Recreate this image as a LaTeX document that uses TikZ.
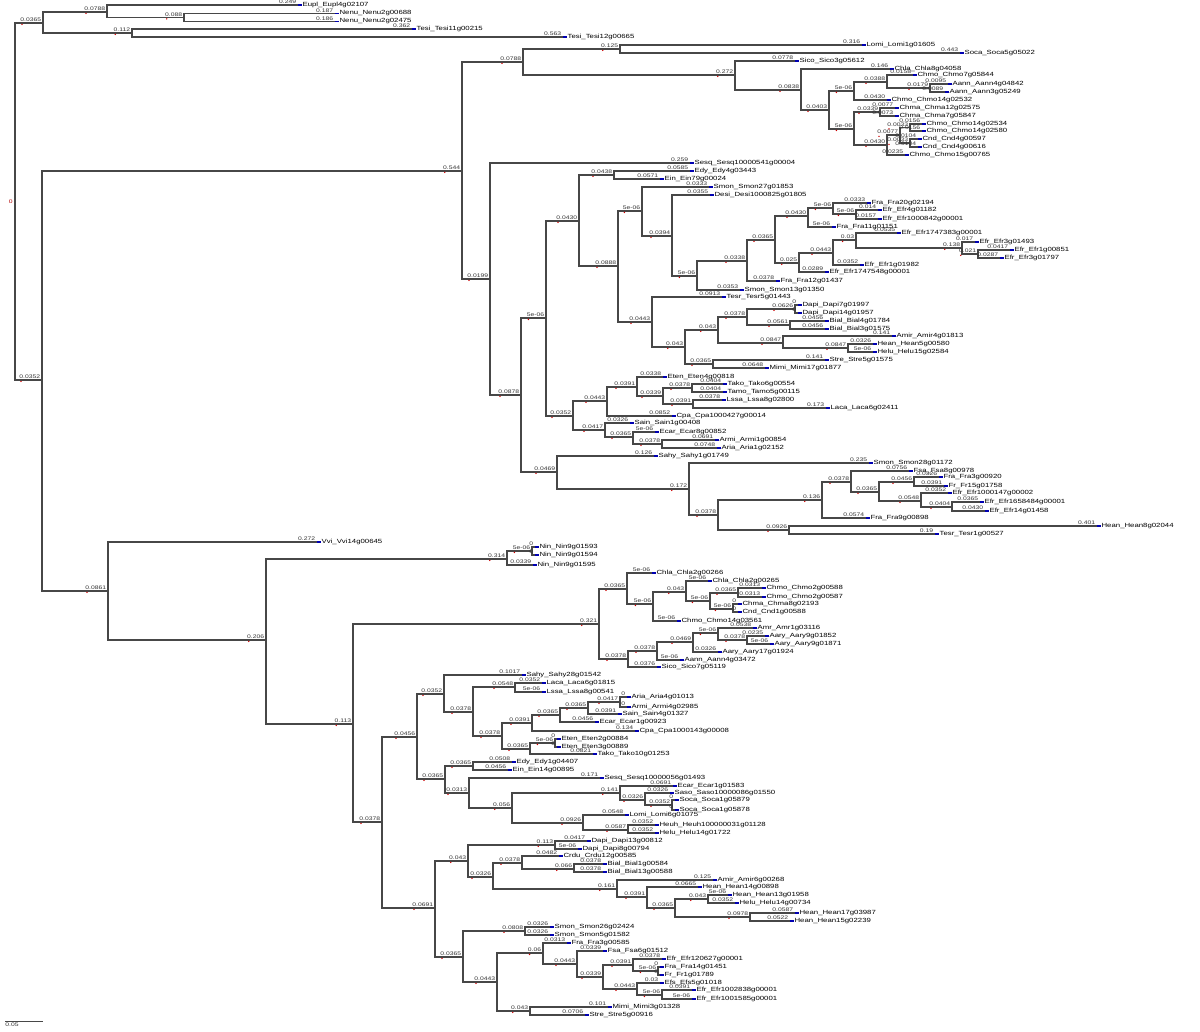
\documentclass[tikz,border=0pt]{standalone}
\usepackage{fontspec}
\newfontfamily\nmf[FakeStretch=1.3]{Liberation Sans}
\begin{document}
\begin{tikzpicture}[x=1pt,y=-1pt,
  br/.style={draw=black!72,line width=1.2pt,line cap=rect},
  lbl/.style={inner sep=0.2pt,font=\nmf\fontsize{5.2}{5.2}\selectfont,text=black!80},
  nm/.style={inner sep=0.4pt,font=\nmf\fontsize{6}{6}\selectfont,text=black}]
\useasboundingbox (0,0) rectangle (1200,1032);
\newcommand\tnd[5]{%
  \coordinate (#1) at (#3,#4);
  \draw[br] (#2) |- (#1);
  \node[lbl,anchor=south east] (#1-l) at ([xshift=-1.5,yshift=0.6]#1) {#5};
  \fill[red!80!black] ([xshift=2,yshift=-2]#1-l.south west) circle (0.8);
  \fill[red!80!black] ([yshift=-1.5]#1) circle (0.6);}
\newcommand\tlf[6]{%
  \coordinate (#1) at (#3,#4);
  \draw[br] (#2) |- (#1);
  \node[lbl,anchor=south east] (#1-l) at ([xshift=-1.5,yshift=0.6]#1) {#5};
  \draw[blue!70!black,line width=1.2pt] (#1) -- ([xshift=4]#1);
  \node[nm,anchor=west] (#1-t) at ([xshift=4]#1) {#6};}
\coordinate (r) at (15,202);
\node[lbl,anchor=east,text=red!70!black] (r-l) at ([xshift=-2]r) {0};
% ---------- top clade
\tnd{a0}{r}{43}{23}{0.0365}
\tnd{a1}{a0}{107}{12}{0.0788}
\tlf{v1}{a1}{298}{5}{0.249}{Eupl\_Eupl4g02107}
\tnd{a2}{a1}{184}{17.5}{0.088}
\tlf{v2}{a2}{335}{13.5}{0.187}{Nenu\_Nenu2g00688}
\tlf{v3}{a2}{335}{21.5}{0.186}{Nenu\_Nenu2g02475}
\tnd{a3}{a0}{132}{33}{0.112}
\tlf{v4}{a3}{412}{29}{0.362}{Tesi\_Tesi11g00215}
\tlf{v5}{a3}{563}{37}{0.563}{Tesi\_Tesi12g00665}
% ---------- second clade
\tnd{b0}{r}{42}{380}{0.0352}
\tnd{b1}{b0}{462}{171}{0.544}
\tnd{c1}{b1}{523}{62}{0.0788}
\tnd{d1}{c1}{620}{49}{0.125}
\tlf{v6}{d1}{862}{45}{0.316}{Lomi\_Lomi1g01605}
\tlf{v7}{d1}{960}{53}{0.443}{Soca\_Soca5g05022}
\tnd{d2}{c1}{735}{75}{0.272}
\tlf{v8}{d2}{795}{61}{0.0778}{Sico\_Sico3g05612}
\tnd{e1}{d2}{801}{90}{0.0838}
\tlf{v9}{e1}{890}{69}{0.146}{Chla\_Chla8g04058}
\tnd{e2}{e1}{829}{110}{0.0403}
\tnd{f1}{e2}{854}{91}{5e-06}
\tnd{g1}{f1}{887}{82}{0.0388}
\tlf{v10}{g1}{913}{75}{0.0158}{Chmo\_Chmo7g05844}
\tnd{g2}{g1}{930}{88}{0.0179}
\tlf{v11}{g2}{948}{84}{0.0095}{Aann\_Aann4g04842}
\tlf{v12}{g2}{945}{92}{0.0089}{Aann\_Aann3g05249}
\tlf{v13}{f1}{887}{100}{0.0430}{Chmo\_Chmo14g02532}
\tnd{f2}{e2}{854}{129}{5e-06}
\tnd{h1}{f2}{880}{112}{0.0339}
\tlf{v14}{h1}{895}{108}{0.0077}{Chma\_Chma12g02575}
\tlf{v15}{h1}{895}{116}{0.0073}{Chma\_Chma7g05847}
\tnd{h2}{f2}{887}{145}{0.0430}
\tnd{j1}{h2}{900}{135}{0.0077}
\tnd{j2}{j1}{910}{127.5}{0.0033}
\tlf{v16}{j2}{922}{124}{0.0156}{Chmo\_Chmo14g02534}
\tlf{v17}{j2}{922}{131}{0.0156}{Chmo\_Chmo14g02580}
\tnd{j3}{j1}{910}{143}{0.0033}
\tlf{v18}{j3}{918}{139}{0.0104}{Cnd\_Cnd4g00597}
\tlf{v19}{j3}{918}{147}{0.0104}{Cnd\_Cnd4g00616}
\tlf{v20}{h2}{905}{155}{0.0235}{Chmo\_Chmo15g00765}
\tnd{c2}{b1}{490}{279}{0.0199}
\tlf{v21}{c2}{690}{163}{0.259}{Sesq\_Sesq10000541g00004}
\tnd{hh}{c2}{521}{395}{0.0878}
\tnd{i1}{hh}{546}{318}{5e-06}
\tnd{jj1}{i1}{579}{221}{0.0430}
\tnd{k1}{jj1}{614}{175}{0.0438}
\tlf{v22}{k1}{690}{171}{0.0585}{Edy\_Edy4g03443}
\tlf{v23}{k1}{660}{179}{0.0571}{Ein\_Ein79g00024}
\tnd{k2}{jj1}{618}{266}{0.0888}
\tnd{l1}{k2}{642}{211}{5e-06}
\tlf{v24}{l1}{709}{187}{0.0333}{Smon\_Smon27g01853}
\tnd{m1}{l1}{672}{236}{0.0394}
\tlf{v25}{m1}{710}{195}{0.0355}{Desi\_Desi1000825g01805}
\tnd{m2}{m1}{697}{276}{5e-06}
\tnd{n1}{m2}{747}{261}{0.0338}
\tlf{v26}{m2}{740}{290}{0.0353}{Smon\_Smon13g01350}
\tnd{o1}{n1}{775}{240}{0.0365}
\tnd{p1}{o1}{808}{216}{0.0430}
\tnd{q1}{p1}{833}{208}{5e-06}
\tlf{v27}{q1}{867}{203}{0.0333}{Fra\_Fra20g02194}
\tnd{q2}{q1}{856}{214}{5e-06}
\tlf{v28}{q2}{878}{210}{0.014}{Efr\_Efr4g01182}
\tlf{v29}{q2}{878}{219}{0.0157}{Efr\_Efr1000842g00001}
\tlf{v30}{p1}{832}{227}{5e-06}{Fra\_Fra11g01151}
\tnd{p2}{o1}{799}{263}{0.025}
\tnd{r1}{p2}{833}{253}{0.0443}
\tnd{s1}{r1}{856}{240}{0.03}
\tlf{v31}{s1}{897}{233}{0.0535}{Efr\_Efr1747383g00001}
\tnd{s2}{s1}{962}{248}{0.138}
\tlf{v32}{s2}{975}{242}{0.017}{Efr\_Efr3g01493}
\tnd{t1}{s2}{978}{254}{0.021}
\tlf{v33}{t1}{1010}{250}{0.0417}{Efr\_Efr1g00851}
\tlf{v34}{t1}{1000}{258}{0.0287}{Efr\_Efr3g01797}
\tlf{v35}{r1}{860}{265}{0.0352}{Efr\_Efr1g01982}
\tlf{v36}{p2}{825}{272}{0.0289}{Efr\_Efr1747548g00001}
\tlf{v37}{n1}{776}{281}{0.0378}{Fra\_Fra12g01437}
\tnd{L2}{k2}{652}{322}{0.0443}
\tlf{v38}{L2}{722}{297}{0.0913}{Tesr\_Tesr5g01443}
\tnd{u1}{L2}{685}{347}{0.043}
\tnd{u2}{u1}{718}{330}{0.043}
\tnd{v1n}{u2}{747}{317}{0.0378}
\tnd{w1}{v1n}{795}{309}{0.0626}
\tlf{v39}{w1}{798}{305}{0}{Dapi\_Dapi7g01997}
\tlf{v40}{w1}{798}{313}{0}{Dapi\_Dapi14g01957}
\tnd{w2}{v1n}{790}{325}{0.0561}
\tlf{v41}{w2}{825}{321}{0.0456}{Bial\_Bial4g01784}
\tlf{v42}{w2}{825}{329}{0.0456}{Bial\_Bial3g01575}
\tnd{w3}{u2}{783}{343}{0.0847}
\tlf{v43}{w3}{892}{336}{0.141}{Amir\_Amir4g01813}
\tnd{w4}{w3}{848}{348}{0.0847}
\tlf{v44}{w4}{873}{344}{0.0326}{Hean\_Hean5g00580}
\tlf{v45}{w4}{873}{352}{5e-06}{Helu\_Helu15g02584}
\tnd{w5}{u1}{713}{364}{0.0365}
\tlf{v46}{w5}{825}{360}{0.141}{Stre\_Stre5g01575}
\tlf{v47}{w5}{765}{368}{0.0648}{Mimi\_Mimi17g01877}
\tnd{J2}{i1}{573}{416}{0.0352}
\tnd{x1}{J2}{607}{401}{0.0443}
\tnd{x2}{x1}{637}{387}{0.0391}
\tlf{v48}{x2}{663}{377}{0.0338}{Eten\_Eten4g00818}
\tnd{x3}{x2}{663}{396}{0.0339}
\tnd{x4}{x3}{692}{388}{0.0378}
\tlf{v49}{x4}{723}{384}{0.0404}{Tako\_Tako6g00554}
\tlf{v50}{x4}{723}{392}{0.0404}{Tamo\_Tamo5g00115}
\tnd{x5}{x3}{693}{404}{0.0391}
\tlf{v51}{x5}{722}{400}{0.0378}{Lssa\_Lssa8g02800}
\tlf{v52}{x5}{826}{408}{0.173}{Laca\_Laca6g02411}
\tlf{v53}{x1}{672}{416}{0.0852}{Cpa\_Cpa1000427g00014}
\tnd{y1}{J2}{605}{430}{0.0417}
\tlf{v54}{y1}{630}{423}{0.0326}{Sain\_Sain1g00408}
\tnd{y2}{y1}{633}{437}{0.0365}
\tlf{v55}{y2}{655}{432}{5e-06}{Ecar\_Ecar8g00852}
\tnd{y3}{y2}{662}{444}{0.0378}
\tlf{v56}{y3}{715}{440}{0.0691}{Armi\_Armi1g00854}
\tlf{v57}{y3}{717}{448}{0.0748}{Aria\_Aria1g02152}
\tnd{I2}{hh}{557}{472}{0.0469}
\tlf{v58}{I2}{654}{456}{0.126}{Sahy\_Sahy1g01749}
\tnd{Z}{I2}{689}{489}{0.172}
\tlf{v59}{Z}{869}{463}{0.235}{Smon\_Smon28g01172}
\tnd{Z2}{Z}{718}{515}{0.0378}
\tnd{Z3}{Z2}{822}{500}{0.136}
\tnd{Z5}{Z3}{851}{482}{0.0378}
\tlf{v60}{Z5}{909}{471}{0.0756}{Fsa\_Fsa8g00978}
\tnd{Z6}{Z5}{879}{492}{0.0365}
\tnd{Z7}{Z6}{914}{482}{0.0456}
\tlf{v61}{Z7}{939}{477}{0.0326}{Fra\_Fra3g00920}
\tlf{v62}{Z7}{944}{486}{0.0391}{Fr\_Fr15g01758}
\tnd{Z8}{Z6}{921}{501}{0.0548}
\tlf{v63}{Z8}{948}{493}{0.0352}{Efr\_Efr1000147g00002}
\tnd{Z9}{Z8}{952}{507}{0.0404}
\tlf{v64}{Z9}{980}{502}{0.0365}{Efr\_Efr1658484g00001}
\tlf{v65}{Z9}{985}{511}{0.0430}{Efr\_Efr14g01458}
\tlf{v66}{Z3}{866}{518}{0.0574}{Fra\_Fra9g00898}
\tnd{Z4}{Z2}{789}{530}{0.0926}
\tlf{v67}{Z4}{1097}{526}{0.401}{Hean\_Hean8g02044}
\tlf{v68}{Z4}{935}{534}{0.19}{Tesr\_Tesr1g00527}
% ---------- lower clade
\tnd{B2}{b0}{108}{591}{0.0861}
\tlf{v69}{B2}{317}{542}{0.272}{Vvi\_Vvi14g00645}
\tnd{C}{B2}{266}{640}{0.206}
\tnd{D}{C}{507}{559}{0.314}
\tnd{D1}{D}{532}{551}{5e-06}
\tlf{v70}{D1}{535}{547}{0}{Nin\_Nin9g01593}
\tlf{v71}{D1}{535}{555}{0}{Nin\_Nin9g01594}
\tlf{v72}{D}{533}{565}{0.0339}{Nin\_Nin9g01595}
\tnd{E}{C}{353}{724}{0.113}
\tnd{F}{E}{599}{624}{0.321}
\tnd{F1}{F}{627}{589}{0.0365}
\tlf{v73}{F1}{652}{573}{5e-06}{Chla\_Chla2g00266}
\tnd{F2}{F1}{653}{604}{5e-06}
\tnd{F3}{F2}{686}{592}{0.043}
\tlf{v74}{F3}{708}{581}{5e-06}{Chla\_Chla2g00265}
\tnd{F4}{F3}{710}{601}{5e-06}
\tnd{F5}{F4}{738}{593}{0.0365}
\tlf{v75}{F5}{762}{588}{0.0313}{Chmo\_Chmo2g00588}
\tlf{v76}{F5}{762}{597}{0.0313}{Chmo\_Chmo2g00587}
\tnd{F6}{F4}{733}{609}{5e-06}
\tlf{v77}{F6}{738}{604}{0}{Chma\_Chma8g02193}
\tlf{v78}{F6}{738}{612}{0}{Cnd\_Cnd1g00588}
\tlf{v79}{F2}{677}{621}{5e-06}{Chmo\_Chmo14g03561}
\tnd{G}{F}{628}{659}{0.0378}
\tnd{G1}{G}{657}{651}{0.0378}
\tnd{G2}{G1}{693}{642}{0.0469}
\tnd{G3}{G2}{718}{633}{5e-06}
\tlf{v80}{G3}{753}{628}{0.0538}{Amr\_Amr1g03116}
\tnd{G4}{G3}{747}{640}{0.0378}
\tlf{v81}{G4}{765}{636}{0.0235}{Aary\_Aary9g01852}
\tlf{v82}{G4}{770}{644}{5e-06}{Aary\_Aary9g01871}
\tlf{v83}{G2}{718}{652}{0.0326}{Aary\_Aary17g01924}
\tlf{v84}{G1}{680}{660}{5e-06}{Aann\_Aann4g03472}
\tlf{v85}{G}{657}{667}{0.0376}{Sico\_Sico7g05119}
\tnd{H}{E}{382}{822}{0.0378}
\tnd{H1}{H}{417}{737}{0.0456}
\tnd{I1}{H1}{444}{694}{0.0352}
\tlf{v86}{I1}{522}{675}{0.1017}{Sahy\_Sahy28g01542}
\tnd{I2b}{I1}{473}{712}{0.0378}
\tnd{I3}{I2b}{515}{687}{0.0548}
\tlf{v87}{I3}{542}{683}{0.0352}{Laca\_Laca6g01815}
\tlf{v88}{I3}{542}{692}{5e-06}{Lssa\_Lssa8g00541}
\tnd{I4}{I2b}{502}{736}{0.0378}
\tnd{I5}{I4}{532}{723}{0.0391}
\tnd{I6}{I5}{560}{715}{0.0365}
\tnd{I7}{I6}{588}{708}{0.0365}
\tnd{I7b}{I7}{620}{702}{0.0417}
\tlf{v89}{I7b}{627}{697}{0}{Aria\_Aria4g01013}
\tlf{v90}{I7b}{627}{707}{0}{Armi\_Armi4g02985}
\tlf{v91}{I7}{618}{714}{0.0391}{Sain\_Sain4g01327}
\tlf{v92}{I6}{595}{722}{0.0456}{Ecar\_Ecar1g00923}
\tlf{v93}{I5}{635}{731}{0.134}{Cpa\_Cpa1000143g00008}
\tnd{I8}{I4}{530}{749}{0.0365}
\tnd{I9}{I8}{555}{743}{5e-06}
\tlf{v94}{I9}{557}{739}{0}{Eten\_Eten2g00884}
\tlf{v95}{I9}{557}{747}{0}{Eten\_Eten3g00889}
\tlf{v96}{I8}{593}{754}{0.0821}{Tako\_Tako10g01253}
\tnd{J}{H1}{445}{779}{0.0365}
\tnd{J1}{J}{473}{766}{0.0365}
\tlf{v97}{J1}{512}{762}{0.0508}{Edy\_Edy1g04407}
\tlf{v98}{J1}{508}{770}{0.0456}{Ein\_Ein14g00895}
\tnd{J2b}{J}{469}{793}{0.0313}
\tlf{v99}{J2b}{600}{778}{0.171}{Sesq\_Sesq10000056g01493}
\tnd{K}{J2b}{512}{808}{0.056}
\tnd{K1}{K}{620}{793}{0.141}
\tlf{v100}{K1}{673}{786}{0.0691}{Ecar\_Ecar1g01583}
\tnd{K2}{K1}{645}{800}{0.0326}
\tlf{v101}{K2}{670}{793}{0.0326}{Saso\_Saso10000086g01550}
\tnd{K3}{K2}{672}{805}{0.0352}
\tlf{v102}{K3}{675}{800}{0}{Soca\_Soca1g05879}
\tlf{v103}{K3}{675}{810}{0}{Soca\_Soca1g05878}
\tnd{K4}{K}{583}{823}{0.0926}
\tlf{v104}{K4}{625}{815}{0.0548}{Lomi\_Lomi6g01075}
\tnd{K5}{K4}{628}{830}{0.0587}
\tlf{v105}{K5}{655}{825}{0.0352}{Heuh\_Heuh100000031g01128}
\tlf{v106}{K5}{655}{833}{0.0352}{Helu\_Helu14g01722}
\tnd{H2}{H}{435}{908}{0.0691}
\tnd{L}{H2}{468}{861}{0.043}
\tnd{L1}{L}{555}{845}{0.113}
\tlf{v107}{L1}{587}{841}{0.0417}{Dapi\_Dapi13g00812}
\tlf{v108}{L1}{578}{849}{5e-06}{Dapi\_Dapi8g00794}
\tnd{L2b}{L}{493}{877}{0.0326}
\tnd{L3}{L2b}{522}{863}{0.0378}
\tlf{v109}{L3}{559}{856}{0.0482}{Crdu\_Crdu12g00585}
\tnd{L4}{L3}{574}{869}{0.066}
\tlf{v110}{L4}{603}{864}{0.0378}{Bial\_Bial1g00584}
\tlf{v111}{L4}{603}{872}{0.0378}{Bial\_Bial13g00588}
\tnd{L5}{L2b}{617}{889}{0.161}
\tlf{v112}{L5}{713}{880}{0.125}{Amir\_Amir6g00268}
\tnd{L6}{L5}{647}{897}{0.0391}
\tlf{v113}{L6}{698}{887}{0.0665}{Hean\_Hean14g00898}
\tnd{L7}{L6}{675}{908}{0.0365}
\tnd{L8}{L7}{708}{899}{0.043}
\tlf{v114}{L8}{728}{895}{5e-06}{Hean\_Hean13g01958}
\tlf{v115}{L8}{735}{903}{0.0352}{Helu\_Helu14g00734}
\tnd{L9}{L7}{750}{917}{0.0978}
\tlf{v116}{L9}{795}{913}{0.0587}{Hean\_Hean17g03987}
\tlf{v117}{L9}{790}{921}{0.0522}{Hean\_Hean15g02239}
\tnd{M}{H2}{463}{957}{0.0365}
\tnd{M1}{M}{525}{931}{0.0808}
\tlf{v118}{M1}{550}{927}{0.0326}{Smon\_Smon26g02424}
\tlf{v119}{M1}{550}{935}{0.0326}{Smon\_Smon5g01582}
\tnd{M2}{M}{497}{982}{0.0443}
\tnd{M3}{M2}{543}{953}{0.06}
\tlf{v120}{M3}{567}{943}{0.0313}{Fra\_Fra3g00585}
\tnd{M4}{M3}{577}{964}{0.0443}
\tlf{v121}{M4}{603}{951}{0.0339}{Fsa\_Fsa6g01512}
\tnd{M5}{M4}{603}{977}{0.0339}
\tnd{M6}{M5}{633}{965}{0.0391}
\tlf{v122}{M6}{662}{959}{0.0378}{Efr\_Efr120627g00001}
\tnd{M7}{M6}{658}{971}{5e-06}
\tlf{v123}{M7}{660}{967}{0}{Fra\_Fra14g01451}
\tlf{v124}{M7}{660}{975}{0}{Fr\_Fr1g01789}
\tnd{M8}{M5}{637}{989}{0.0443}
\tlf{v125}{M8}{660}{983}{0.03}{Efs\_Efs5g01018}
\tnd{M9}{M8}{662}{995}{5e-06}
\tlf{v126}{M9}{692}{990}{0.0391}{Efr\_Efr1002838g00001}
\tlf{v127}{M9}{692}{999}{5e-06}{Efr\_Efr1001585g00001}
\tnd{M10}{M2}{530}{1011}{0.043}
\tlf{v128}{M10}{608}{1007}{0.101}{Mimi\_Mimi3g01328}
\tlf{v129}{M10}{585}{1015}{0.0706}{Stre\_Stre5g00916}
% ---------- scale bar
\coordinate (sb1) at (5,1021);
\coordinate (sb2) at (43,1021);
\draw[black!72,line width=1pt] (sb1) -- (sb2);
\node[lbl,anchor=north west] (sbl) at ([yshift=-1.5]sb1) {0.05};
\end{tikzpicture}
\end{document}
